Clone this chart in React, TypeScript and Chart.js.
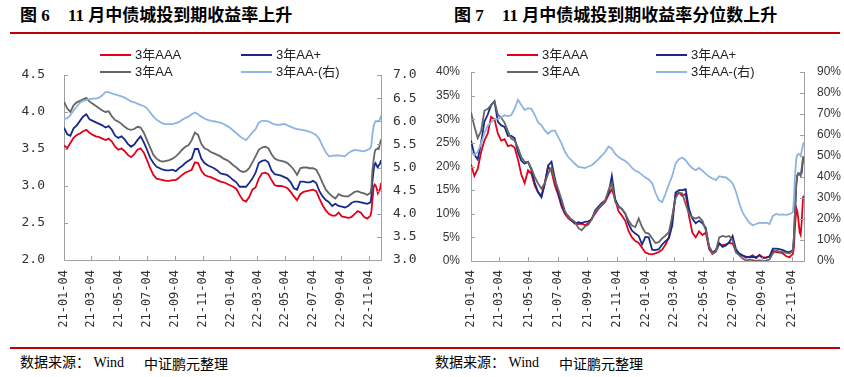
import React, { useEffect, useRef } from "react";
import { Chart, registerables } from "chart.js";

Chart.register(...registerables);

// ---------- categories (dates) ----------
const DATES = [
  "2021-01-04","2021-01-11","2021-01-18","2021-01-25","2021-02-01","2021-02-08","2021-02-15","2021-02-22","2021-03-01","2021-03-08",
  "2021-03-15","2021-03-22","2021-03-29","2021-04-05","2021-04-12","2021-04-19","2021-04-26","2021-05-03","2021-05-10","2021-05-17",
  "2021-05-24","2021-05-31","2021-06-07","2021-06-14","2021-06-21","2021-06-28","2021-07-05","2021-07-12","2021-07-19","2021-07-26",
  "2021-08-02","2021-08-09","2021-08-16","2021-08-23","2021-08-30","2021-09-06","2021-09-13","2021-09-20","2021-09-27","2021-10-04",
  "2021-10-11","2021-10-18","2021-10-25","2021-11-01","2021-11-08","2021-11-15","2021-11-22","2021-11-29","2021-12-06","2021-12-13",
  "2021-12-20","2021-12-27","2022-01-03","2022-01-10","2022-01-17","2022-01-24","2022-01-31","2022-02-07","2022-02-14","2022-02-21",
  "2022-02-28","2022-03-07","2022-03-14","2022-03-21","2022-03-28","2022-04-04","2022-04-11","2022-04-18","2022-04-25","2022-05-02",
  "2022-05-09","2022-05-16","2022-05-23","2022-05-30","2022-06-06","2022-06-13","2022-06-20","2022-06-27","2022-07-04","2022-07-11",
  "2022-07-18","2022-07-25","2022-08-01","2022-08-08","2022-08-15","2022-08-22","2022-08-29","2022-09-05","2022-09-12","2022-09-19",
  "2022-09-26","2022-10-03","2022-10-10","2022-10-17","2022-10-24","2022-10-31","2022-11-07","2022-11-09","2022-11-11","2022-11-14",
  "2022-11-16","2022-11-18","2022-11-21","2022-11-23","2022-11-25","2022-11-28","2022-11-30",
];
const X_START = "2021-01-04";
const X_END = "2022-11-30";
const X_TICK_LABELS = ["21-01-04","21-03-04","21-05-04","21-07-04","21-09-04","21-11-04","22-01-04","22-03-04","22-05-04","22-07-04","22-09-04","22-11-04"];

// ---------- 图6: yields (%) ----------
const YIELD_AAA = [
  3.55,3.51,3.58,3.65,3.69,3.71,3.74,3.76,3.72,3.69,
  3.67,3.66,3.64,3.62,3.64,3.60,3.53,3.49,3.51,3.47,
  3.42,3.39,3.43,3.49,3.51,3.45,3.35,3.24,3.15,3.10,
  3.09,3.08,3.07,3.07,3.08,3.08,3.11,3.15,3.18,3.20,
  3.22,3.32,3.31,3.21,3.15,3.13,3.12,3.10,3.08,3.06,
  3.05,3.03,3.01,2.99,2.96,2.88,2.81,2.79,2.85,2.95,
  2.98,3.10,3.17,3.18,3.16,3.08,3.01,3.00,3.00,2.99,
  2.97,2.92,2.86,2.81,2.89,2.92,2.93,2.94,2.95,2.93,
  2.83,2.74,2.67,2.62,2.60,2.60,2.64,2.59,2.58,2.57,
  2.58,2.62,2.66,2.64,2.58,2.56,2.60,
  2.66,2.80,2.99,3.02,3.01,2.96,2.90,2.92,2.96,3.04,
];
const YIELD_AAP = [
  3.79,3.70,3.68,3.78,3.82,3.88,3.94,3.97,3.90,3.88,
  3.86,3.84,3.82,3.79,3.81,3.76,3.68,3.65,3.67,3.63,
  3.57,3.53,3.56,3.62,3.67,3.59,3.49,3.38,3.31,3.26,
  3.24,3.22,3.21,3.21,3.22,3.20,3.24,3.27,3.31,3.34,
  3.37,3.50,3.50,3.37,3.31,3.28,3.26,3.24,3.21,3.17,
  3.16,3.15,3.12,3.08,3.05,2.99,2.99,2.99,3.04,3.10,
  3.18,3.31,3.34,3.35,3.32,3.21,3.16,3.15,3.14,3.12,
  3.10,3.05,2.97,2.95,3.06,3.06,3.05,3.05,3.07,3.04,
  2.93,2.86,2.81,2.78,2.73,2.76,2.73,2.72,2.71,2.73,
  2.77,2.79,2.79,2.78,2.77,2.76,2.78,
  2.86,3.05,3.22,3.29,3.31,3.27,3.25,3.28,3.30,3.35,
];
const YIELD_AA = [
  4.14,4.05,4.00,4.09,4.13,4.15,4.17,4.19,4.14,4.11,
  4.08,4.05,4.02,4.00,4.01,3.94,3.89,3.87,3.84,3.80,
  3.77,3.76,3.77,3.80,3.79,3.72,3.62,3.52,3.42,3.37,
  3.34,3.33,3.34,3.35,3.37,3.40,3.44,3.49,3.53,3.55,
  3.62,3.72,3.69,3.57,3.51,3.49,3.46,3.44,3.42,3.40,
  3.37,3.35,3.32,3.28,3.25,3.21,3.19,3.20,3.24,3.32,
  3.40,3.49,3.52,3.53,3.51,3.43,3.37,3.35,3.34,3.33,
  3.31,3.27,3.22,3.15,3.24,3.25,3.25,3.24,3.24,3.22,
  3.14,3.04,2.95,2.90,2.86,2.83,2.89,2.87,2.86,2.86,
  2.89,2.92,2.93,2.91,2.90,2.88,2.91,
  2.98,3.20,3.36,3.45,3.49,3.50,3.51,3.50,3.58,3.63,
];
const YIELD_AAM = [
  6.05,6.06,6.13,6.23,6.32,6.40,6.44,6.46,6.48,6.49,
  6.49,6.51,6.56,6.63,6.63,6.60,6.58,6.56,6.54,6.51,
  6.47,6.43,6.41,6.38,6.35,6.33,6.28,6.19,6.10,6.03,
  5.99,5.95,5.94,5.94,5.94,5.96,5.98,6.03,6.07,6.10,
  6.15,6.19,6.15,6.10,6.06,6.03,6.01,6.00,5.98,5.97,
  5.94,5.90,5.86,5.80,5.74,5.68,5.63,5.59,5.67,5.76,
  5.83,5.97,6.01,6.01,6.00,5.96,5.93,5.92,5.93,5.94,
  5.91,5.88,5.85,5.83,5.82,5.81,5.79,5.77,5.74,5.70,
  5.61,5.46,5.33,5.24,5.25,5.26,5.26,5.25,5.24,5.31,
  5.35,5.38,5.37,5.36,5.35,5.38,5.42,
  5.50,5.70,5.90,5.96,6.00,6.00,6.00,6.01,6.05,6.12,
];

// ---------- 图7: percentile (%) ----------
const PCT_AAA = [
  20.5,18.0,19.5,23.0,25.5,27.0,30.5,30.0,27.0,25.5,
  25.8,24.3,24.5,24.0,21.5,18.3,16.5,19.2,18.5,16.0,
  14.5,13.8,16.5,20.0,19.0,16.0,14.0,11.5,10.0,9.0,
  8.5,8.0,7.8,7.9,7.6,8.0,9.0,10.0,11.0,11.8,
  12.5,14.0,15.2,13.0,10.5,9.6,8.5,6.3,5.0,4.2,
  3.8,2.8,1.8,1.5,1.4,1.6,1.9,2.4,3.5,5.0,
  9.0,14.0,14.5,13.8,14.2,9.5,6.0,5.0,6.3,5.5,
  6.0,2.5,1.5,2.0,3.6,3.3,3.5,3.8,3.7,2.0,
  1.5,1.1,0.7,0.9,1.2,0.6,1.3,0.8,0.7,1.0,
  2.2,1.9,1.8,1.6,1.0,0.8,1.5,
  3.0,7.0,11.2,10.5,9.0,6.0,5.5,8.0,13.5,13.8,
];
const PCT_AAP = [
  25.5,22.5,21.5,25.0,29.5,31.0,33.0,33.8,29.5,28.7,
  28.4,26.5,26.5,26.0,23.0,21.2,20.6,21.0,19.3,16.5,
  14.6,13.5,16.3,20.2,21.0,17.5,14.5,12.0,10.2,9.5,
  8.6,7.9,8.2,8.0,8.3,8.4,8.8,10.7,11.5,12.3,
  12.8,14.3,18.0,13.0,11.6,11.0,10.0,7.8,6.4,5.8,
  5.3,3.5,5.1,5.0,2.4,2.3,2.5,3.5,4.2,4.8,
  7.5,14.5,15.0,15.0,15.2,11.0,9.0,8.0,8.5,8.0,
  7.0,3.0,1.8,2.3,3.8,3.0,3.3,4.0,5.3,2.5,
  1.6,1.2,0.9,0.8,0.9,0.8,1.2,0.6,0.7,0.9,
  2.6,2.6,2.5,2.3,2.0,1.9,2.3,
  5.0,10.0,16.4,18.0,18.3,18.5,18.4,18.6,21.5,22.0,
];
const PCT_AA = [
  31.5,28.5,26.0,27.5,31.8,32.2,33.0,33.8,31.0,30.3,
  29.3,27.5,25.9,25.5,24.0,22.0,21.0,21.0,19.6,17.8,
  16.4,15.3,16.5,18.5,19.8,17.0,15.2,13.0,10.6,9.3,
  8.8,8.3,7.0,6.5,7.3,7.7,8.8,10.4,11.2,12.0,
  12.8,15.0,16.5,12.5,11.4,11.0,10.0,8.5,7.5,7.2,
  9.0,7.2,6.0,5.8,4.8,3.8,4.0,4.8,5.4,6.1,
  9.5,13.3,14.5,14.3,12.0,10.0,9.3,9.0,9.3,8.5,
  6.5,3.0,1.6,2.0,5.0,5.3,5.1,5.3,4.4,1.8,
  1.2,0.5,0.1,0.3,0.2,0.0,0.1,0.0,0.1,0.3,
  1.6,2.2,2.0,1.9,1.7,1.6,2.2,
  5.0,10.0,16.4,18.2,18.6,18.3,18.0,19.5,22.0,22.2,
];
const PCT_AAM = [
  51.9,50.5,52.0,56.0,60.8,64.5,66.0,67.6,67.8,68.4,
  69.4,69.0,69.4,72.5,76.8,74.3,71.9,72.8,72.5,69.6,
  66.0,64.6,62.2,60.6,62.0,62.2,59.0,56.0,52.0,49.5,
  47.9,46.3,44.8,44.6,44.3,45.0,45.6,47.0,48.5,50.2,
  51.9,54.5,53.5,51.0,49.5,48.5,47.6,46.3,44.3,43.0,
  42.3,41.0,39.8,38.8,37.0,32.5,29.0,28.0,32.0,36.5,
  40.5,46.5,48.5,49.3,48.0,45.7,44.2,43.2,44.3,43.0,
  41.5,40.2,39.3,38.5,40.4,40.0,39.8,38.6,37.0,33.0,
  27.5,23.0,20.5,18.2,17.0,17.6,18.3,18.0,18.3,17.6,
  21.5,22.4,22.0,22.2,22.0,22.3,23.2,
  30.0,40.0,49.0,50.5,51.0,50.6,50.3,52.0,55.5,56.5,
];

const SERIES_NAMES = ["3年AAA", "3年AA+", "3年AA", "3年AA-(右)"];

// ---------- styles ----------
const C_AAA = "#E2001A";
const C_AAP = "#172A8A";
const C_AA = "#666666";
const C_AAM = "#8DB4E2";
const AXIS = "#A0A0A0";
const TEXT = "#333333";
const RED_RULE = "#C00000";
const MONO = '"DejaVu Sans Mono", monospace';
const SANS = '"Liberation Sans", "Noto Sans CJK SC", sans-serif';
const CJK = '"Noto Sans CJK SC", sans-serif';
const SERIF_CJK = '"Liberation Serif", "Noto Sans CJK SC", serif';

const dayOf = (s: string) =>
  (Date.UTC(+s.slice(0, 4), +s.slice(5, 7) - 1, +s.slice(8, 10)) -
    Date.UTC(+X_START.slice(0, 4), +X_START.slice(5, 7) - 1, +X_START.slice(8, 10))) / 86400000;

const TICK_DAYS = X_TICK_LABELS.map((l) => dayOf("20" + l));

const inwardTicks = {
  id: "inwardTicks",
  afterDatasetsDraw(chart: any) {
    const { ctx, chartArea: a, scales } = chart;
    ctx.save();
    ctx.strokeStyle = AXIS;
    ctx.lineWidth = 1;
    ctx.beginPath();
    scales.x.ticks.forEach((t: any) => {
      const px = Math.round(scales.x.getPixelForValue(t.value)) + 0.5;
      ctx.moveTo(px, a.bottom);
      ctx.lineTo(px, a.bottom - 4);
    });
    scales.y.ticks.forEach((t: any) => {
      const py = Math.round(scales.y.getPixelForValue(t.value)) + 0.5;
      ctx.moveTo(a.left, py);
      ctx.lineTo(a.left + 4, py);
    });
    scales.y1.ticks.forEach((t: any) => {
      const py = Math.round(scales.y1.getPixelForValue(t.value)) + 0.5;
      ctx.moveTo(a.right, py);
      ctx.lineTo(a.right - 4, py);
    });
    ctx.stroke();
    ctx.restore();
  },
};

type Cfg = {
  series: number[][];
  yMin: number; yMax: number; yStep: number;
  y1Min: number; y1Max: number; y1Step: number;
  yFmt: (v: number) => string;
  y1Fmt: (v: number) => string;
  yFont: any; y1Font: any;
  leftW: number; rightW: number; topPad: number; xH: number;
  yPad: number; y1Pad: number; xPad: number;
};

function LineChart({ cfg }: { cfg: Cfg }) {
  const ref = useRef<HTMLCanvasElement>(null);
  useEffect(() => {
    if (!ref.current) return;
    const xs = DATES.map(dayOf);
    const mk = (vals: number[]) => vals.map((v, i) => ({ x: xs[i], y: v }));
    const [aaa, aap, aa, aam] = cfg.series;
    const base = { pointRadius: 0, borderWidth: 1.8, tension: 0, fill: false };
    const chart = new Chart(ref.current, {
      type: "line",
      data: {
        datasets: [
          { ...base, label: SERIES_NAMES[3], data: mk(aam), borderColor: C_AAM, yAxisID: "y1" },
          { ...base, label: SERIES_NAMES[2], data: mk(aa), borderColor: C_AA, yAxisID: "y" },
          { ...base, label: SERIES_NAMES[1], data: mk(aap), borderColor: C_AAP, yAxisID: "y" },
          { ...base, label: SERIES_NAMES[0], data: mk(aaa), borderColor: C_AAA, yAxisID: "y" },
        ],
      },
      options: {
        animation: false,
        responsive: false,
        events: [],
        layout: { padding: { top: cfg.topPad, left: 0, right: 0, bottom: 0 } },
        plugins: { legend: { display: false }, tooltip: { enabled: false } },
        scales: {
          x: {
            type: "linear",
            min: 0,
            max: dayOf(X_END),
            grid: { display: true, drawOnChartArea: false, drawTicks: false },
            border: { display: true, color: AXIS },
            afterBuildTicks: (s: any) => {
              s.ticks = TICK_DAYS.map((v) => ({ value: v }));
            },
            afterFit: (s: any) => {
              s.height = cfg.xH;
            },
            ticks: {
              autoSkip: false,
              maxRotation: 90,
              minRotation: 90,
              padding: cfg.xPad,
              color: TEXT,
              font: { family: MONO, size: 12 },
              callback: (_v: any, i: number) => X_TICK_LABELS[i],
            },
          },
          y: {
            type: "linear",
            position: "left",
            min: cfg.yMin,
            max: cfg.yMax,
            grid: { display: true, drawOnChartArea: false, drawTicks: false },
            border: { display: true, color: AXIS },
            afterFit: (s: any) => {
              s.width = cfg.leftW;
            },
            ticks: {
              stepSize: cfg.yStep,
              padding: cfg.yPad,
              color: TEXT,
              font: cfg.yFont,
              callback: (v: any) => cfg.yFmt(Number(v)),
            },
          },
          y1: {
            type: "linear",
            position: "right",
            min: cfg.y1Min,
            max: cfg.y1Max,
            grid: { display: true, drawOnChartArea: false, drawTicks: false },
            border: { display: true, color: AXIS },
            afterFit: (s: any) => {
              s.width = cfg.rightW;
            },
            ticks: {
              stepSize: cfg.y1Step,
              padding: cfg.y1Pad,
              color: TEXT,
              font: cfg.y1Font,
              callback: (v: any) => cfg.y1Fmt(Number(v)),
            },
          },
        },
      } as any,
      plugins: [inwardTicks],
    });
    return () => chart.destroy();
  }, []);
  return <canvas ref={ref} width={422} height={300} style={{ width: 422, height: 300, display: "block" }} />;
}

function LegendItem({ x, y, color, label }: { x: number; y: number; color: string; label: string }) {
  return (
    <>
      <div style={{ position: "absolute", left: x, top: y - 1, width: 31, height: 2, background: color }} />
      <div
        style={{
          position: "absolute",
          left: x + 35,
          top: y - 8,
          fontFamily: SANS,
          fontSize: 13,
          lineHeight: "16px",
          color: "#222",
          whiteSpace: "nowrap",
        }}
      >
        {label}
      </div>
    </>
  );
}

function Abs({ x, y, size, bold, family, children }: any) {
  return (
    <div
      style={{
        position: "absolute",
        left: x,
        top: y,
        fontSize: size,
        lineHeight: `${size + 4}px`,
        fontWeight: bold ? 700 : 400,
        fontFamily: family,
        color: "#000",
        whiteSpace: "pre",
      }}
    >
      {children}
    </div>
  );
}

const leftCfg: Cfg = {
  series: [YIELD_AAA, YIELD_AAP, YIELD_AA, YIELD_AAM],
  yMin: 2, yMax: 4.5, yStep: 0.5,
  y1Min: 3, y1Max: 7, y1Step: 0.5,
  yFmt: (v) => v.toFixed(1),
  y1Fmt: (v) => v.toFixed(1),
  yFont: { family: MONO, size: 13 },
  y1Font: { family: MONO, size: 13 },
  leftW: 64, rightW: 41, topPad: 35, xH: 80,
  yPad: 19, y1Pad: 12, xPad: 10,
};

const rightCfg: Cfg = {
  series: [PCT_AAA, PCT_AAP, PCT_AA, PCT_AAM],
  yMin: 0, yMax: 40, yStep: 5,
  y1Min: 0, y1Max: 90, y1Step: 10,
  yFmt: (v) => `${Math.round(v)}%`,
  y1Fmt: (v) => `${Math.round(v)}%`,
  yFont: { family: '"Liberation Sans", sans-serif', size: 12 },
  y1Font: { family: '"Liberation Sans", sans-serif', size: 12 },
  leftW: 49, rightW: 40, topPad: 32, xH: 79,
  yPad: 11, y1Pad: 13, xPad: 9,
};

export default function App() {
  const colors = [C_AAA, C_AAP, C_AA, C_AAM];
  return (
    <div style={{ position: "absolute", left: 0, top: 0, width: 844, height: 377, background: "#fff", overflow: "hidden" }}>
      {/* titles */}
      <Abs x={20} y={5} size={17} bold family={SERIF_CJK}>图 6</Abs>
      <Abs x={68} y={5} size={17} bold family={SERIF_CJK}>11 月中债城投到期收益率上升</Abs>
      <Abs x={454} y={5} size={17} bold family={SERIF_CJK}>图 7</Abs>
      <Abs x={502} y={5} size={17} bold family={SERIF_CJK}>11 月中债城投到期收益率分位数上升</Abs>
      <div style={{ position: "absolute", left: 10, top: 32, width: 830, height: 2, background: RED_RULE }} />

      {/* charts */}
      <div style={{ position: "absolute", left: 0, top: 40 }}>
        <LineChart cfg={leftCfg} />
      </div>
      <div style={{ position: "absolute", left: 422, top: 40 }}>
        <LineChart cfg={rightCfg} />
      </div>

      {/* legends */}
      <LegendItem x={100} y={55} color={colors[0]} label={SERIES_NAMES[0]} />
      <LegendItem x={241} y={55} color={colors[1]} label={SERIES_NAMES[1]} />
      <LegendItem x={100} y={72} color={colors[2]} label={SERIES_NAMES[2]} />
      <LegendItem x={241} y={72} color={colors[3]} label={SERIES_NAMES[3]} />
      <LegendItem x={507} y={55} color={colors[0]} label={SERIES_NAMES[0]} />
      <LegendItem x={656} y={55} color={colors[1]} label={SERIES_NAMES[1]} />
      <LegendItem x={507} y={72} color={colors[2]} label={SERIES_NAMES[2]} />
      <LegendItem x={656} y={72} color={colors[3]} label={SERIES_NAMES[3]} />

      {/* footer */}
      <div style={{ position: "absolute", left: 10, top: 347, width: 830, height: 2, background: RED_RULE }} />
      <Abs x={20} y={354} size={14} family={SERIF_CJK}>数据来源： Wind</Abs>
      <Abs x={144} y={354} size={14} family={CJK}>中证鹏元整理</Abs>
      <Abs x={435} y={354} size={14} family={SERIF_CJK}>数据来源： Wind</Abs>
      <Abs x={559} y={354} size={14} family={CJK}>中证鹏元整理</Abs>
    </div>
  );
}
